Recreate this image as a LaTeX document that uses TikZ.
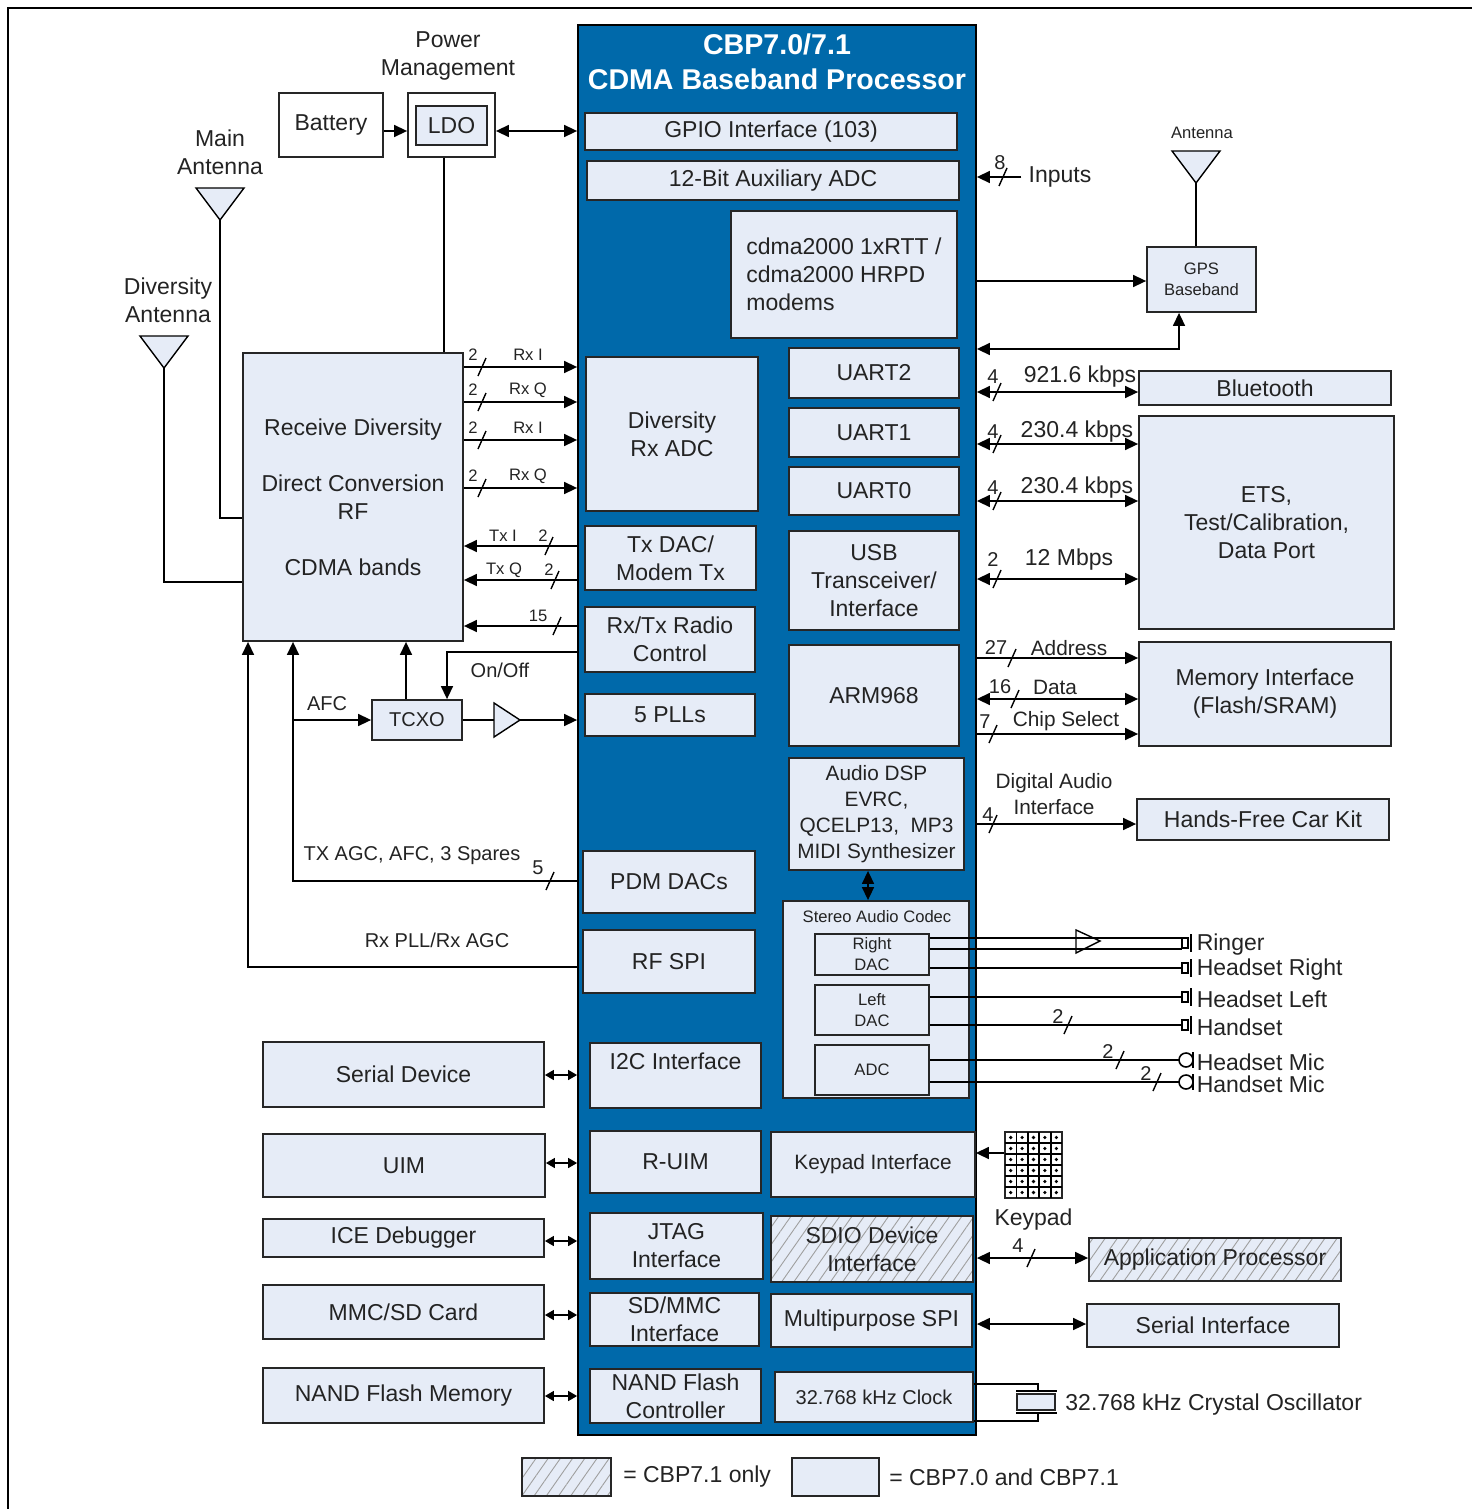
\documentclass[tikz,border=0pt]{standalone}
\usepackage{fontspec}
\setmainfont{Liberation Sans}
\usetikzlibrary{positioning, arrows.meta, patterns.meta}
\definecolor{cbpblue}{RGB}{0,105,170}
\definecolor{boxfill}{RGB}{230,236,247}
\definecolor{txt}{RGB}{35,35,35}
\newcommand{\fbig}{\fontsize{11.5}{14}\selectfont}
\newcommand{\fmid}{\fontsize{10.4}{13}\selectfont}
\newcommand{\fsml}{\fontsize{10}{12}\selectfont}
\newcommand{\ftiny}{\fontsize{8.3}{10.5}\selectfont}
\newcommand{\ftitle}{\fontsize{14.3}{17.5}\selectfont\bfseries}
% bus slash and antenna symbol
\newcommand{\busmark}[2]{\draw[line width=0.7pt] (#1-4,#2+9) -- (#1+4,#2-9);}
\newcommand{\antenna}[3]{\draw[fill=boxfill, line width=0.7pt] (#2-24,#3) -- (#2+24,#3) -- (#2,#3+32) -- cycle;
	\coordinate (#1) at (#2,#3+32);}

\begin{document}
\begin{tikzpicture}[x=0.5pt, y=-0.5pt, line width=0.75pt,
		every node/.style={text=txt, font=\fbig, align=center},
		sz/.style 2 args={minimum width=#1*0.5pt, minimum height=#2*0.5pt},
		blk/.style={draw=black!85, fill=boxfill, inner sep=0pt, line width=0.9pt},
		plain/.style={draw=black!85, inner sep=0pt, line width=0.9pt},
		hatch/.style={blk, preaction={fill=boxfill}, pattern={Lines[angle=55, distance=5pt, line width=0.45pt]}, pattern color=gray!75},
		arr/.style={-{Triangle[length=6.5pt, width=6pt]}},
		darr/.style={{Triangle[length=6.5pt, width=6pt]}-{Triangle[length=6.5pt, width=6pt]}},
		sarr/.style={{Triangle[length=4.5pt, width=5pt]}-{Triangle[length=4.5pt, width=5pt]}}
		]
		\useasboundingbox (0,0) rectangle (1472,1509);
		\draw[line width=0.8pt] (8,1509) -- (8,8) -- (1472,8);
		
		% processor
		\node[draw=black, fill=cbpblue, sz={398}{1410}, inner sep=0pt, line width=0.9pt] (cbp) at (777,730) {};
		\node[text=white, font=\ftitle] (title) at (777,62) {CBP7.0/7.1\\CDMA Baseband Processor};
		
		% blocks of the processor
		\node[blk, sz={372}{37}] (gpio) at (771,131.5) {GPIO Interface (103)};
		\node[blk, sz={372}{39}] (aux) at (773,180.5) {12-Bit Auxiliary ADC};
		\node[blk, sz={226}{127}, align=left] (modem) at (844,274.5) {cdma2000 1xRTT /\\cdma2000 HRPD\\modems};
		\node[blk, sz={170}{50}] (uart2) at (874,373) {UART2};
		\node[blk, sz={170}{49}] (uart1) at (874,432.5) {UART1};
		\node[blk, sz={170}{48}] (uart0) at (874,491) {UART0};
		\node[blk, sz={170}{99}] (usb) at (874,580.5) {USB\\Transceiver/\\Interface};
		\node[blk, sz={170}{101}] (arm) at (874,695.5) {ARM968};
		\node[blk, sz={175}{112}, font=\fmid] (dsp) at (876.5,814) {Audio DSP\\EVRC,\\QCELP13,\ \ MP3\\MIDI Synthesizer};
		\node[blk, sz={172}{154}] (divadc) at (672,434) {Diversity\\Rx ADC};
		\node[blk, sz={171}{64}] (txdac) at (670.5,558) {Tx DAC/\\Modem Tx};
		\node[blk, sz={170}{65}] (radio) at (670,639.5) {Rx/Tx Radio\\Control};
		\node[blk, sz={170}{42}] (pll) at (670,715) {5 PLLs};
		\node[blk, sz={172}{62}] (pdm) at (669,882) {PDM DACs};
		\node[blk, sz={172}{63}] (rfspi) at (669,961.5) {RF SPI};
		\node[blk, sz={186}{197}] (codec) at (876,999.5) {};
		\node[font=\ftiny] (codlab) at (877,917) {Stereo Audio Codec};
		\node[blk, sz={114}{41}, font=\ftiny] (rdac) at (872,954.5) {Right\\DAC};
		\node[blk, sz={114}{50}, font=\ftiny] (ldac) at (872,1010) {Left\\DAC};
		\node[blk, sz={114}{50}, font=\ftiny] (cadc) at (872,1070) {ADC};
		\node[blk, sz={171}{65}] (i2c) at (675.5,1075.5) {I2C Interface\\\mbox{}};
		\node[blk, sz={171}{62}] (ruim) at (675.5,1162) {R-UIM};
		\node[blk, sz={204}{65}, font=\fmid] (kpif) at (873,1164.5) {Keypad Interface};
		\node[blk, sz={173}{66}] (jtag) at (676.5,1246) {JTAG\\Interface};
		\node[hatch, sz={202}{66}] (sdio) at (872,1249) {SDIO Device\\Interface};
		\node[blk, sz={169}{53}] (sdmmc) at (674.5,1319.5) {SD/MMC\\Interface};
		\node[blk, sz={201}{53}] (mspi) at (871.5,1320.5) {Multipurpose SPI};
		\node[blk, sz={171}{54}] (nandc) at (675.5,1396) {NAND Flash\\Controller};
		\node[blk, sz={198}{50}, font=\fsml] (clk) at (874,1397) {32.768 kHz Clock};
		
		% power and radio on the left
		\node (pm) at (448,56) {Power\\Management};
		\node[plain, sz={104}{64}] (bat) at (331,125) {Battery};
		\node[plain, sz={87}{64}] (ldo) at (451.5,125) {};
		\node[blk, sz={71}{39}] (ldoin) at (451.5,125.5) {LDO};
		\node (mantl) at (220,152) {Main\\Antenna};
		\node (dantl) at (168,300) {Diversity\\Antenna};
		\antenna{mant}{220}{188}
		\antenna{dant}{164}{336}
		\node[blk, sz={220}{288}] (rf) at (353,497) {Receive Diversity\\[14pt]Direct Conversion\\RF\\[14pt]CDMA bands};
		\node[blk, sz={90}{40}, font=\fsml] (tcxo) at (417,720) {TCXO};
		
		% devices on the left
		\node[blk, sz={281}{65}] (sdev) at (403.5,1074.5) {Serial Device};
		\node[blk, sz={282}{63}] (uim) at (404,1165.5) {UIM};
		\node[blk, sz={281}{38}] (ice) at (403.5,1238) {ICE Debugger};
		\node[blk, sz={281}{54}] (mmc) at (403.5,1312) {MMC/SD Card};
		\node[blk, sz={281}{55}] (nandm) at (403.5,1395.5) {NAND Flash Memory};
		
		% devices on the right
		\node[font=\ftiny] (gantl) at (1202,133) {Antenna};
		\antenna{gant}{1196}{151}
		\node[blk, sz={109}{65}, font=\ftiny] (gps) at (1201.5,279.5) {GPS\\Baseband};
		\node (inp) at (1060,177) {Inputs};
		\node[blk, sz={252}{34}] (bt) at (1265,388) {Bluetooth};
		\node[blk, sz={255}{213}] (ets) at (1266.5,522.5) {ETS,\\Test/Calibration,\\Data Port};
		\node[blk, sz={252}{104}] (mem) at (1265,694) {Memory Interface\\(Flash/SRAM)};
		\node[blk, sz={252}{41}] (hf) at (1263,819.5) {Hands-Free Car Kit};
		\node[hatch, sz={252}{43}] (ap) at (1215,1259.5) {Application Processor};
		\node[blk, sz={252}{43}] (si) at (1213,1325.5) {Serial Interface};
		\node[draw=black!85, sz={57}{66}, inner sep=0pt, line width=1pt] (kp) at (1033.5,1165) {};
		\node[below=1pt of kp] (kplab) {Keypad};
		\node[blk, sz={38}{16}] (xtal) at (1036,1402) {};
		\node[anchor=west] (xtall) at (1058,1405) {32.768 kHz Crystal Oscillator};
		
		% legend
		\node[hatch, sz={89}{38}] (leg1) at (566.5,1477) {};
		\node[right=2pt of leg1] (leg1t) {= CBP7.1 only};
		\node[blk, sz={87}{38}] (leg2) at (835.5,1477) {};
		\node[right=1pt of leg2] (leg2t) {= CBP7.0 and CBP7.1};
		
		% power connections
		\draw[arr] (bat.east |- 0,131) -- (ldo.west |- 0,131);
		\draw[darr] (ldo.east |- 0,131) -- (cbp.west |- 0,131);
		\draw (ldo.south -| 444,0) -- (rf.north -| 444,0);
		\draw (mant) |- (rf.west |- 0,518);
		\draw (dant) |- (rf.west |- 0,582);
		
		% radio connections
		\foreach \y/\lab [count=\i] in {367/Rx I, 402/Rx Q, 440/Rx I, 488/Rx Q}{
			\draw[arr] (rf.east |- 0,\y) -- (cbp.west |- 0,\y);
			\busmark{482}{\y}
			\node[font=\ftiny] (rxn\i) at (473,\y-12) {2};
			\node[font=\ftiny] (rxl\i) at (528,\y-12) {\lab};
		}
		\draw[arr] (cbp.west |- 0,546) -- (rf.east |- 0,546);
		\busmark{549}{546}
		\node[font=\ftiny] (txn1) at (543,536) {2};
		\node[font=\ftiny] (txl1) at (503,536) {Tx I};
		\draw[arr] (cbp.west |- 0,580) -- (rf.east |- 0,580);
		\busmark{555}{580}
		\node[font=\ftiny] (txn2) at (549,570) {2};
		\node[font=\ftiny] (txl2) at (504,570) {Tx Q};
		\draw[arr] (cbp.west |- 0,626) -- (rf.east |- 0,626);
		\busmark{557}{626}
		\node[font=\ftiny] (ctln) at (538,616) {15};
		\draw[arr] (cbp.west |- 0,652) -| (tcxo.north -| 447,0);
		\node[font=\fsml] (onoff) at (500,670) {On/Off};
		\draw[arr] (tcxo.north -| 406,0) -- (rf.south -| 406,0);
		\coordinate (ampin) at (494,720);
		\coordinate (ampout) at (520,720);
		\draw (tcxo.east) -- (ampin);
		\draw[fill=boxfill, line width=0.7pt] (494,703) -- (ampout) -- (494,737) -- cycle;
		\draw[arr] (ampout) -- (cbp.west |- ampout);
		\draw[arr] (cbp.west |- 0,881) -| (rf.south -| 293,0);
		\coordinate (afcj) at (293,720);
		\draw[arr] (afcj) -- (tcxo.west |- afcj);
		\node[font=\fsml] (afcl) at (327,704) {AFC};
		\node[font=\fsml] (agcl) at (412,856) {TX AGC, AFC, 3 Spares};
		\busmark{550}{881}
		\node[font=\fsml] (agcn) at (538,868) {5};
		\draw[arr] (cbp.west |- 0,967) -| (rf.south -| 248,0);
		\node[font=\fsml] (plll) at (437,940) {Rx PLL/Rx AGC};
		
		% left side interfaces
		\foreach \dev/\y in {sdev/1075, uim/1163, ice/1241, mmc/1315, nandm/1396}
		\draw[sarr] (\dev.east |- 0,\y) -- (cbp.west |- 0,\y);
		
		% right side interfaces
		\draw[arr] (inp.west) -- (cbp.east |- inp);
		\busmark{1003}{177}
		\node[font=\fsml] (inpn) at (1000,163) {8};
		\draw (gant) -- (gps.north -| gant);
		\draw[arr] (cbp.east |- 0,281) -- (gps.west |- 0,281);
		\draw[darr] (cbp.east |- 0,349) -| (gps.south -| 1179,0);
		\foreach \y/\ny/\n/\rate/\rx [count=\i] in {392/377/4/921.6 kbps/1080, 444/432/4/230.4 kbps/1077, 501/488/4/230.4 kbps/1077, 579/560/2/12 Mbps/1069}{
			\draw[darr] (cbp.east |- 0,\y) -- (ets.west |- 0,\y);
			\busmark{997}{\y}
			\node[font=\fsml] (urn\i) at (993,\ny) {\n};
			\node (url\i) at (\rx,\ny) {\rate};
		}
		\draw[arr] (cbp.east |- 0,658) -- (mem.west |- 0,658);
		\busmark{1012}{658}
		\node[font=\fsml] (addrn) at (996,648) {27};
		\node[font=\fmid] (addrl) at (1069,648) {Address};
		\draw[darr] (cbp.east |- 0,699) -- (mem.west |- 0,699);
		\busmark{1015}{699}
		\node[font=\fsml] (datan) at (1000,687) {16};
		\node[font=\fmid] (datal) at (1055,687) {Data};
		\draw[arr] (cbp.east |- 0,734) -- (mem.west |- 0,734);
		\busmark{993}{734}
		\node[font=\fsml] (csn) at (985,722) {7};
		\node[font=\fmid] (csl) at (1066,721) {Chip Select};
		\draw[arr] (cbp.east |- 0,824) -- (hf.west |- 0,824);
		\busmark{993}{824}
		\node[font=\fsml] (dain) at (988,815) {4};
		\node[font=\fmid] (dail) at (1054,794) {Digital Audio\\Interface};
		\draw[darr] (dsp.south -| 868,0) -- (codec.north -| 868,0);
		
		% audio outputs
		\draw (rdac.east |- 0,938) -- (1182,938);
		\draw (rdac.east |- 0,949) -- (1182,949);
		\draw[line width=0.7pt] (1076,930) -- (1100,941) -- (1076,953) -- cycle;
		\draw (rdac.east |- 0,968) -- (1182,968);
		\draw (ldac.east |- 0,997) -- (1182,997);
		\draw (ldac.east |- 0,1025) -- (1182,1025);
		\busmark{1068}{1025}
		\node[font=\fsml] (hsn) at (1058,1017) {2};
		\foreach \y/\txt in {943/Ringer, 968/Headset Right, 997/Headset Left, 1025/Handset}{
			\draw[line width=0.7pt] (1182,\y-5) rectangle (1188,\y+5);
			\draw[line width=0.7pt] (1191,\y-9) -- (1191,\y+9);
			\node[anchor=west, inner sep=1pt] at (1194,\y+2) {\txt};
		}
		\draw (cadc.east |- 0,1060) -- (1179,1060);
		\draw (cadc.east |- 0,1082) -- (1179,1082);
		\busmark{1120}{1060}
		\node[font=\fsml] (hmn) at (1108,1052) {2};
		\busmark{1157}{1082}
		\node[font=\fsml] (smn) at (1146,1074) {2};
		\foreach \y/\txt in {1060/Headset Mic, 1082/Handset Mic}{
			\draw[line width=0.8pt] (1186,\y) circle (3.5pt);
			\draw[line width=0.8pt] (1193,\y-8) -- (1193,\y+8);
			\node[anchor=west, inner sep=1pt] at (1194,\y+2) {\txt};
		}
		
		% keypad
		\foreach \i in {1,...,4}
		\draw[line width=0.9pt] (1005+\i*11.4,1132) -- (1005+\i*11.4,1198);
		\foreach \j in {1,...,5}
		\draw[line width=0.9pt] (1005,1132+\j*11) -- (1062,1132+\j*11);
		\foreach \i in {0,...,4}
		\foreach \j in {0,...,5}
		\fill (1010.7+\i*11.4,1137.5+\j*11) circle (0.9pt);
		\draw[arr] (kp.west |- 0,1153) -- (kpif.east |- 0,1153);
		
		% application processor, serial interface, crystal
		\draw[darr] (cbp.east |- 0,1258) -- (ap.west |- 0,1258);
		\busmark{1031}{1258}
		\node[font=\fsml] (apn) at (1018,1246) {4};
		\draw[darr] (cbp.east |- 0,1324) -- (si.west |- 0,1324);
		\coordinate (xtop) at (1038,1391);
		\coordinate (xbot) at (1038,1413);
		\draw (1016,1391) -- (1057,1391);
		\draw (1016,1413) -- (1057,1413);
		\draw (clk.east |- 0,1384) -| (xtop);
		\draw (clk.east |- 0,1421) -| (xbot);
		
	\end{tikzpicture}
\end{document}
